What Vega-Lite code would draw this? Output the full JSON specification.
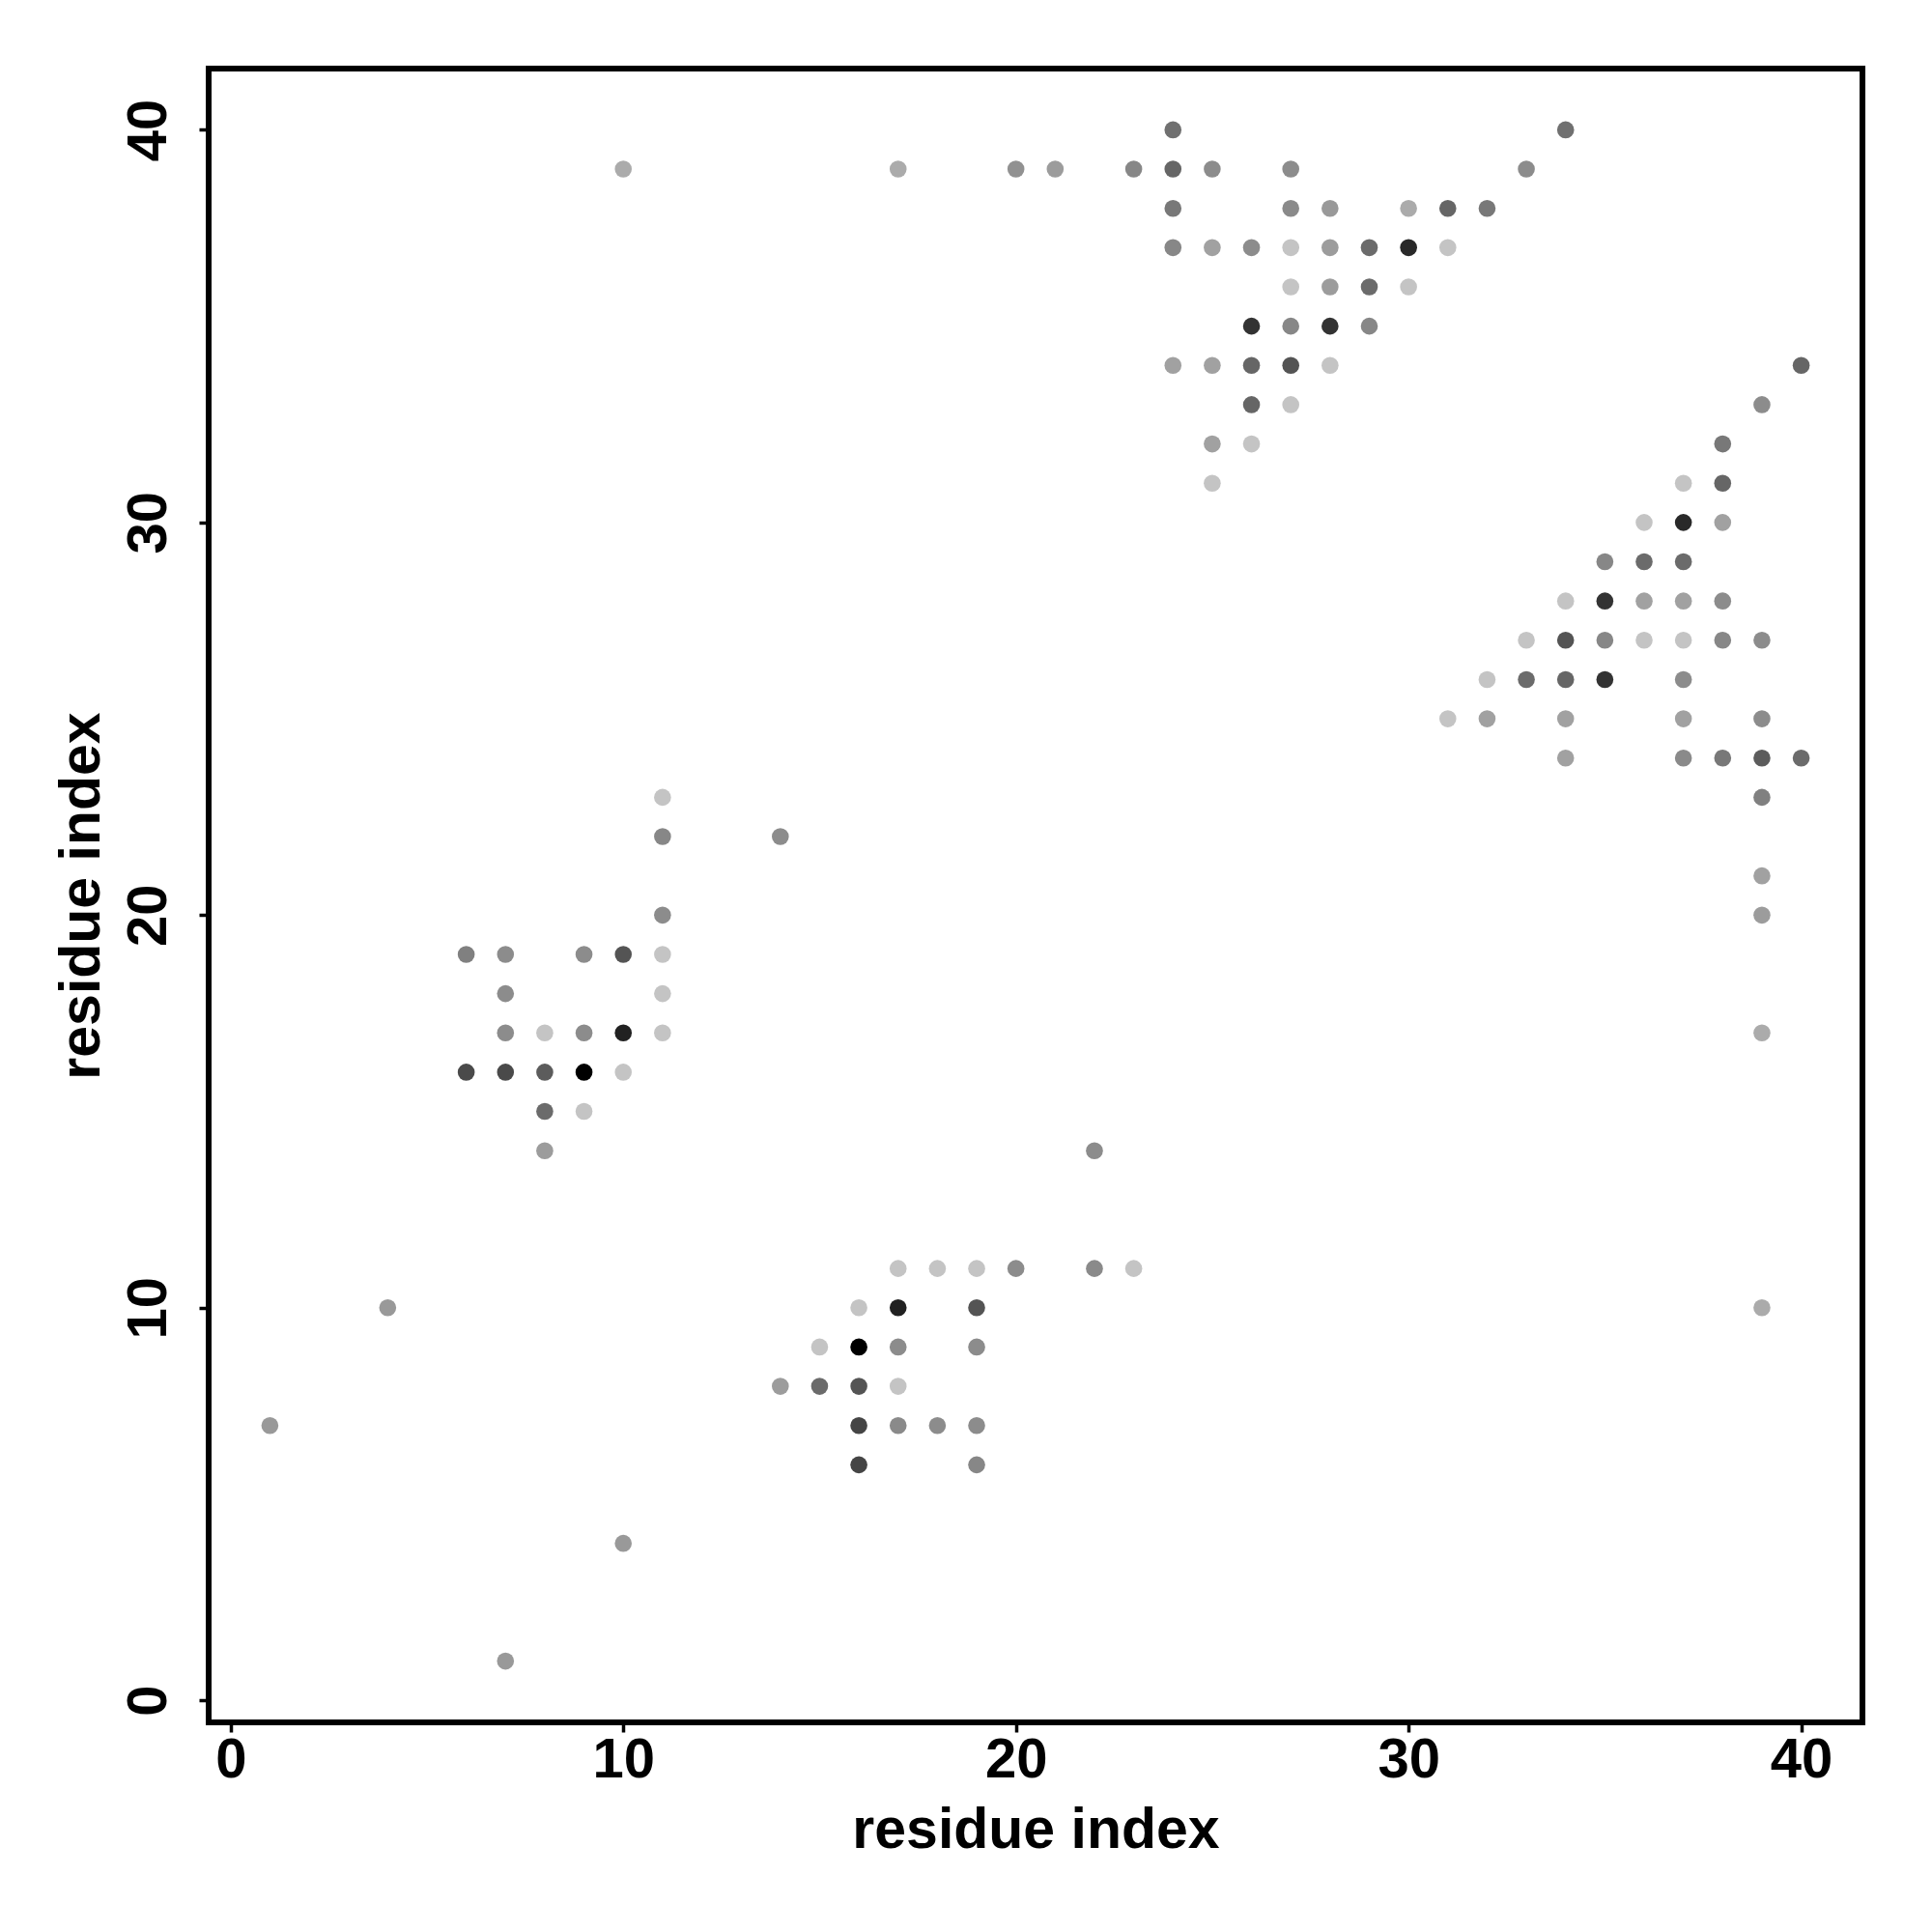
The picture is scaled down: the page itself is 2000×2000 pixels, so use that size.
{
  "$schema": "https://vega.github.io/schema/vega-lite/v6.json",
  "autosize": {"type": "none"},
  "padding": {"left": 216, "top": 71, "right": 72, "bottom": 217},
  "width": 1712,
  "height": 1712,
  "background": "white",
  "config": {
    "view": {"stroke": "black", "strokeWidth": 6, "fill": "white"},
    "font": "Liberation Sans"
  },
  "data": {
    "values": [
      {"i": 24, "j": 40, "w": 0.56}, {"i": 34, "j": 40, "w": 0.56},
      {"i": 10, "j": 39, "w": 0.33}, {"i": 17, "j": 39, "w": 0.33}, {"i": 20, "j": 39, "w": 0.43}, {"i": 21, "j": 39, "w": 0.39}, {"i": 23, "j": 39, "w": 0.47}, {"i": 24, "j": 39, "w": 0.60}, {"i": 25, "j": 39, "w": 0.45}, {"i": 27, "j": 39, "w": 0.45}, {"i": 33, "j": 39, "w": 0.45},
      {"i": 24, "j": 38, "w": 0.53}, {"i": 27, "j": 38, "w": 0.46}, {"i": 28, "j": 38, "w": 0.40}, {"i": 30, "j": 38, "w": 0.33}, {"i": 31, "j": 38, "w": 0.60}, {"i": 32, "j": 38, "w": 0.53},
      {"i": 24, "j": 37, "w": 0.47}, {"i": 25, "j": 37, "w": 0.37}, {"i": 26, "j": 37, "w": 0.45}, {"i": 27, "j": 37, "w": 0.23}, {"i": 28, "j": 37, "w": 0.39}, {"i": 29, "j": 37, "w": 0.58}, {"i": 30, "j": 37, "w": 0.84}, {"i": 31, "j": 37, "w": 0.23},
      {"i": 27, "j": 36, "w": 0.23}, {"i": 28, "j": 36, "w": 0.39}, {"i": 29, "j": 36, "w": 0.58}, {"i": 30, "j": 36, "w": 0.23},
      {"i": 26, "j": 35, "w": 0.80}, {"i": 27, "j": 35, "w": 0.47}, {"i": 28, "j": 35, "w": 0.80}, {"i": 29, "j": 35, "w": 0.47},
      {"i": 24, "j": 34, "w": 0.37}, {"i": 25, "j": 34, "w": 0.37}, {"i": 26, "j": 34, "w": 0.60}, {"i": 27, "j": 34, "w": 0.67}, {"i": 28, "j": 34, "w": 0.23}, {"i": 40, "j": 34, "w": 0.60},
      {"i": 26, "j": 33, "w": 0.60}, {"i": 27, "j": 33, "w": 0.23}, {"i": 39, "j": 33, "w": 0.45},
      {"i": 25, "j": 32, "w": 0.37}, {"i": 26, "j": 32, "w": 0.23}, {"i": 38, "j": 32, "w": 0.53},
      {"i": 25, "j": 31, "w": 0.23}, {"i": 37, "j": 31, "w": 0.23}, {"i": 38, "j": 31, "w": 0.60},
      {"i": 36, "j": 30, "w": 0.23}, {"i": 37, "j": 30, "w": 0.84}, {"i": 38, "j": 30, "w": 0.37},
      {"i": 35, "j": 29, "w": 0.47}, {"i": 36, "j": 29, "w": 0.58}, {"i": 37, "j": 29, "w": 0.58},
      {"i": 34, "j": 28, "w": 0.23}, {"i": 35, "j": 28, "w": 0.80}, {"i": 36, "j": 28, "w": 0.37}, {"i": 37, "j": 28, "w": 0.37}, {"i": 38, "j": 28, "w": 0.45},
      {"i": 33, "j": 27, "w": 0.23}, {"i": 34, "j": 27, "w": 0.67}, {"i": 35, "j": 27, "w": 0.47}, {"i": 36, "j": 27, "w": 0.23}, {"i": 37, "j": 27, "w": 0.23}, {"i": 38, "j": 27, "w": 0.47}, {"i": 39, "j": 27, "w": 0.45},
      {"i": 32, "j": 26, "w": 0.23}, {"i": 33, "j": 26, "w": 0.58}, {"i": 34, "j": 26, "w": 0.60}, {"i": 35, "j": 26, "w": 0.80}, {"i": 37, "j": 26, "w": 0.45},
      {"i": 31, "j": 25, "w": 0.23}, {"i": 32, "j": 25, "w": 0.37}, {"i": 34, "j": 25, "w": 0.37}, {"i": 37, "j": 25, "w": 0.37}, {"i": 39, "j": 25, "w": 0.45},
      {"i": 34, "j": 24, "w": 0.37}, {"i": 37, "j": 24, "w": 0.46}, {"i": 38, "j": 24, "w": 0.53}, {"i": 39, "j": 24, "w": 0.64}, {"i": 40, "j": 24, "w": 0.58},
      {"i": 11, "j": 23, "w": 0.23}, {"i": 39, "j": 23, "w": 0.50},
      {"i": 11, "j": 22, "w": 0.47}, {"i": 14, "j": 22, "w": 0.45},
      {"i": 39, "j": 21, "w": 0.37},
      {"i": 11, "j": 20, "w": 0.45}, {"i": 39, "j": 20, "w": 0.39},
      {"i": 6, "j": 19, "w": 0.50}, {"i": 7, "j": 19, "w": 0.45}, {"i": 9, "j": 19, "w": 0.45}, {"i": 10, "j": 19, "w": 0.67}, {"i": 11, "j": 19, "w": 0.23},
      {"i": 7, "j": 18, "w": 0.45}, {"i": 11, "j": 18, "w": 0.23},
      {"i": 7, "j": 17, "w": 0.45}, {"i": 8, "j": 17, "w": 0.23}, {"i": 9, "j": 17, "w": 0.45}, {"i": 10, "j": 17, "w": 0.87}, {"i": 11, "j": 17, "w": 0.23}, {"i": 39, "j": 17, "w": 0.33},
      {"i": 6, "j": 16, "w": 0.71}, {"i": 7, "j": 16, "w": 0.71}, {"i": 8, "j": 16, "w": 0.64}, {"i": 9, "j": 16, "w": 1.0}, {"i": 10, "j": 16, "w": 0.23},
      {"i": 8, "j": 15, "w": 0.58}, {"i": 9, "j": 15, "w": 0.23},
      {"i": 8, "j": 14, "w": 0.39}, {"i": 22, "j": 14, "w": 0.45},
      {"i": 17, "j": 11, "w": 0.23}, {"i": 18, "j": 11, "w": 0.23}, {"i": 19, "j": 11, "w": 0.23}, {"i": 20, "j": 11, "w": 0.45}, {"i": 22, "j": 11, "w": 0.46}, {"i": 23, "j": 11, "w": 0.23},
      {"i": 4, "j": 10, "w": 0.40}, {"i": 16, "j": 10, "w": 0.23}, {"i": 17, "j": 10, "w": 0.87}, {"i": 19, "j": 10, "w": 0.67}, {"i": 39, "j": 10, "w": 0.33},
      {"i": 15, "j": 9, "w": 0.23}, {"i": 16, "j": 9, "w": 1.0}, {"i": 17, "j": 9, "w": 0.45}, {"i": 19, "j": 9, "w": 0.45},
      {"i": 14, "j": 8, "w": 0.39}, {"i": 15, "j": 8, "w": 0.58}, {"i": 16, "j": 8, "w": 0.67}, {"i": 17, "j": 8, "w": 0.23},
      {"i": 1, "j": 7, "w": 0.40}, {"i": 16, "j": 7, "w": 0.73}, {"i": 17, "j": 7, "w": 0.46}, {"i": 18, "j": 7, "w": 0.45}, {"i": 19, "j": 7, "w": 0.45},
      {"i": 16, "j": 6, "w": 0.73}, {"i": 19, "j": 6, "w": 0.47},
      {"i": 10, "j": 4, "w": 0.40},
      {"i": 7, "j": 1, "w": 0.40}
    ]
  },
  "mark": {"type": "circle", "size": 310, "opacity": 1},
  "encoding": {
    "x": {
      "field": "i", "type": "quantitative",
      "scale": {"domain": [-0.56, 41.56], "nice": false, "zero": false},
      "axis": {
        "values": [0, 10, 20, 30, 40], "grid": false, "domain": false,
        "ticks": true, "tickSize": 10, "tickWidth": 3.5, "tickColor": "black",
        "labelFont": "Liberation Sans", "labelFontWeight": "bold", "labelFontSize": 58, "labelColor": "black",
        "labelPadding": 0, "labelBaseline": "top", "labelAlign": "center", "labelFlush": false, "labelOverlap": false,
        "title": "residue index", "titleFont": "Liberation Sans", "titleFontWeight": "bold", "titleFontSize": 59, "titleColor": "black",
        "titleX": 856, "titleY": 129, "titleAlign": "center", "titleBaseline": "alphabetic", "titleAnchor": null
      }
    },
    "y": {
      "field": "j", "type": "quantitative",
      "scale": {"domain": [-0.56, 41.56], "nice": false, "zero": false},
      "axis": {
        "values": [0, 10, 20, 30, 40], "grid": false, "domain": false,
        "ticks": true, "tickSize": 10, "tickWidth": 3.5, "tickColor": "black",
        "labelFont": "Liberation Sans", "labelFontWeight": "bold", "labelFontSize": 58, "labelColor": "black",
        "labelAngle": -90, "labelAlign": "center", "labelBaseline": "alphabetic", "labelPadding": 35, "labelFlush": false, "labelOverlap": false,
        "title": "residue index", "titleFont": "Liberation Sans", "titleFontWeight": "bold", "titleFontSize": 59, "titleColor": "black",
        "titleAngle": -90, "titleX": -114, "titleY": 856, "titleAlign": "center", "titleBaseline": "alphabetic"
      }
    },
    "color": {
      "field": "w", "type": "quantitative",
      "scale": {"domain": [0, 1], "range": ["#ffffff", "#000000"], "interpolate": "rgb"},
      "legend": null
    }
  }
}
